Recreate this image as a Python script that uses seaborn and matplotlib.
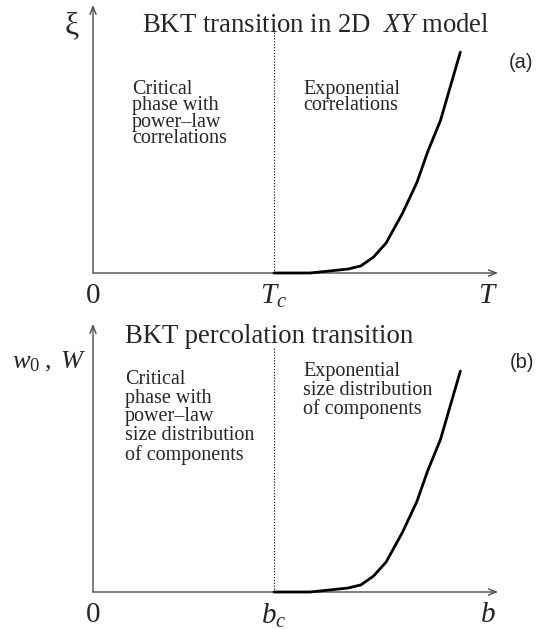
import matplotlib
matplotlib.use("Agg")
import matplotlib.pyplot as plt
import seaborn as sns
import numpy as np

# Curve samples: distance above the critical point (x, with x_c = 1) and the
# rising quantity (xi in panel a, w0/W in panel b), normalised to the top value.
temp_a = [1.00, 1.20, 1.41, 1.48, 1.55, 1.62, 1.71, 1.79, 1.85, 1.92, 2.03]
xi_a = [0.000, 0.000, 0.018, 0.032, 0.072, 0.136, 0.270, 0.410, 0.550, 0.690, 1.000]

bond_b = [1.00, 1.20, 1.41, 1.48, 1.55, 1.62, 1.71, 1.79, 1.85, 1.92, 2.03]
w_b = [0.000, 0.000, 0.018, 0.032, 0.072, 0.136, 0.270, 0.410, 0.550, 0.690, 1.000]

tick_pos = [0.0, 1.0, 2.18]
ticks_a = ["0", r"$T_c$", r"$T$"]
ticks_b = ["0", r"$b_c$", r"$b$"]

sns.set_style("white")
plt.rcParams["font.family"] = ["Liberation Serif", "DejaVu Serif"]
plt.rcParams["mathtext.fontset"] = "custom"
plt.rcParams["mathtext.rm"] = "Liberation Serif"
plt.rcParams["mathtext.it"] = "Liberation Serif:italic"
plt.rcParams["mathtext.bf"] = "Liberation Serif:bold"

W, H = 541, 629
fig = plt.figure(figsize=(W / 100, H / 100), dpi=100)


def axes_at(left, top, right, bottom):
    return fig.add_axes([left / W, 1 - bottom / H, (right - left) / W, (bottom - top) / H])


def fpos(x, y):
    return x / W, 1 - y / H


XMAX, YMAX, DOT_TOP = 2.238, 1.213, 1.109
AXIS_GRAY = "#4d4d4d"


def draw_panel(ax, xs, ys, ticklabels):
    ax.set_xlim(0, XMAX)
    ax.set_ylim(0, YMAX)
    for s in ax.spines.values():
        s.set_visible(False)
    ax.patch.set_alpha(0)
    arrow = dict(arrowstyle="->,head_length=0.55,head_width=0.22", color=AXIS_GRAY,
                 lw=1.0, shrinkA=0, shrinkB=0)
    ax.annotate("", xy=(1, 0), xytext=(0, 0), xycoords="axes fraction",
                arrowprops=arrow, annotation_clip=False)
    ax.annotate("", xy=(0, 1), xytext=(0, 0), xycoords="axes fraction",
                arrowprops=arrow, annotation_clip=False)
    ax.plot([1, 1], [0, DOT_TOP], color="black", lw=0.8, linestyle=(0, (1, 1.6)),
            clip_on=False)
    sns.lineplot(x=xs, y=ys, ax=ax, color="black", linewidth=2.0, sort=False,
                 estimator=None, zorder=5, clip_on=False)
    ax.set_yticks([])
    ax.set_xticks(tick_pos, ticklabels)
    ax.tick_params(axis="x", length=0, pad=7, labelsize=21)
    ax.set_xlabel("")
    ax.set_ylabel("")


ax_a = axes_at(93, 5, 498, 273)
draw_panel(ax_a, temp_a, xi_a, ticks_a)
ax_b = axes_at(93, 324, 498, 592)
draw_panel(ax_b, bond_b, w_b, ticks_b)

# Panel (a) text
fig.text(*fpos(142, 32), r"BKT transition in 2D  $XY$ model", fontsize=19.3, va="baseline")
fig.text(*fpos(72, 26), "ξ", fontsize=23, ha="center", va="center")
fig.text(*fpos(132, 80), "Critical\nphase with\npower\u2013law\ncorrelations",
         fontsize=14.5, va="top", linespacing=0.82)
fig.text(*fpos(303, 80), "Exponential\ncorrelations",
         fontsize=14.5, va="top", linespacing=0.82)
fig.text(*fpos(521, 62), "(a)", fontsize=14.5, family="Liberation Sans",
         ha="center", va="center")

# Panel (b) text
fig.text(*fpos(125, 343), "BKT percolation transition", fontsize=19.3, va="baseline")
fig.text(*fpos(12, 368), r"$w_0\;,\;W$", fontsize=19, va="baseline")
fig.text(*fpos(125, 370), "Critical\nphase with\npower\u2013law\nsize distribution\nof components",
         fontsize=14.5, va="top", linespacing=0.98)
fig.text(*fpos(303, 362), "Exponential\nsize distribution\nof components",
         fontsize=14.5, va="top", linespacing=0.98)
fig.text(*fpos(522, 363), "(b)", fontsize=14.5, family="Liberation Sans",
         ha="center", va="center")

fig.savefig("out.png", dpi=100)
